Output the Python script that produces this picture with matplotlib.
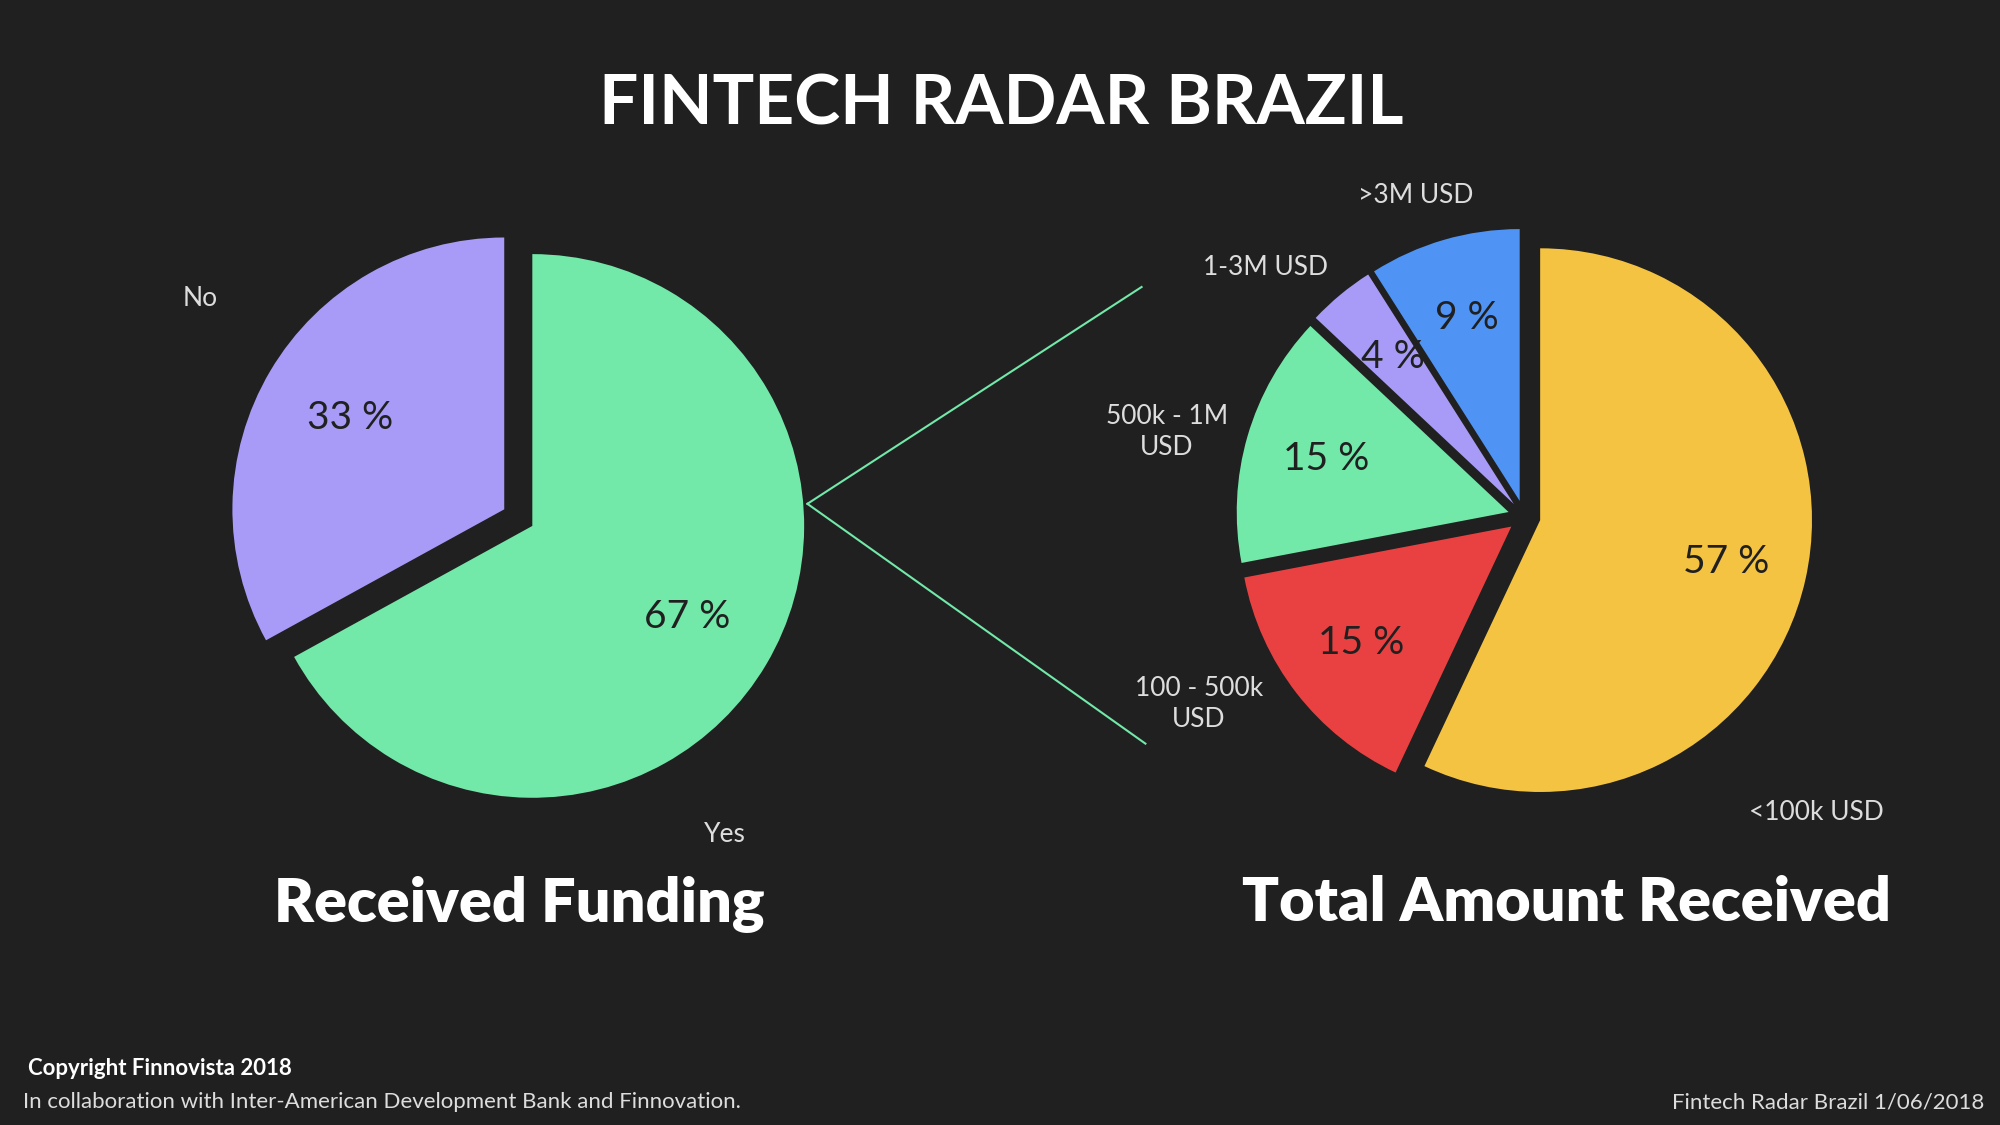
import matplotlib
matplotlib.use("Agg")
import matplotlib.pyplot as plt
from matplotlib.lines import Line2D

funding_labels = ["Yes", "No"]
funding_values = [67, 33]
amount_labels = ["<100k USD", "100 - 500k\nUSD", "500k - 1M\nUSD", "1-3M USD", ">3M USD"]
amount_values = [57, 15, 15, 4, 9]

BG = "#202020"
FONT = "Lato"
W, H = 1568, 882
fig = plt.figure(figsize=(20, 11.25), dpi=100, facecolor=BG)

def fx(x): return x / W
def fy(y): return 1 - y / H

R = 222 * 2000 / W  # pie radius px
lim = 1.2
def pie_axes(cx, cy):
    w = 2 * R * lim / 2000
    h = 2 * R * lim / 1125
    ax = fig.add_axes([fx(cx) - w / 2, fy(cy) - h / 2, w, h])
    ax.set_xlim(-lim, lim); ax.set_ylim(-lim, lim)
    ax.set_aspect("equal"); ax.axis("off")
    return ax

ax1 = pie_axes(410, 408)
ax1.pie(funding_values, colors=["#72e8a9", "#a89bf7"], startangle=90, counterclock=False,
        explode=[0.04, 0.08], autopct=lambda p: f"{p:.0f} %", pctdistance=0.66,
        textprops=dict(color="#202020", fontsize=28, fontfamily=FONT))

ax2 = pie_axes(1195, 405)
ax2.pie(amount_values, colors=["#f5c342", "#e94141", "#72e8a9", "#a89bf7", "#4f94f5"],
        startangle=90, counterclock=False, explode=[0.06] * 5,
        autopct=lambda p: f"{p:.0f} %", pctdistance=0.7,
        textprops=dict(color="#202020", fontsize=28, fontfamily=FONT))

lab = dict(color="#dddddd", fontsize=19, fontfamily=FONT, ha="center", va="center", linespacing=1.3)
for t, (x, y) in zip(funding_labels, [(568, 654), (157, 234)]):
    fig.text(fx(x), fy(y), t, **lab)
for t, (x, y) in zip(amount_labels, [(1424, 637), (940, 552), (915, 339), (992, 210), (1110, 153)]):
    fig.text(fx(x), fy(y), t, **lab)

fig.text(fx(785), fy(82), "FINTECH RADAR BRAZIL", color="white", fontsize=50, fontweight="bold",
         fontfamily=FONT, ha="center", va="center")
fig.text(fx(407), fy(708), "Received Funding", color="white", fontsize=44, fontweight="heavy",
         fontfamily=FONT, ha="center", va="center")
fig.text(fx(1228), fy(708), "Total Amount Received", color="white", fontsize=44, fontweight="heavy",
         fontfamily=FONT, ha="center", va="center")
fig.text(fx(22), fy(838), "Copyright Finnovista 2018", color="white", fontsize=16, fontweight="bold",
         fontfamily=FONT, ha="left", va="center")
fig.text(fx(18), fy(864), "In collaboration with Inter-American Development Bank and Finnovation.",
         color="#dddddd", fontsize=16, fontfamily=FONT, ha="left", va="center")
fig.text(fx(1556), fy(864), "Fintech Radar Brazil 1/06/2018", color="#dddddd", fontsize=16,
         fontfamily=FONT, ha="right", va="center")

for (x2, y2) in [(895, 225), (898, 583)]:
    fig.add_artist(Line2D([fx(633), fx(x2)], [fy(395), fy(y2)], color="#72e8a9", lw=1.5,
                          transform=fig.transFigure))

fig.savefig("out.png", dpi=100, facecolor=BG)
